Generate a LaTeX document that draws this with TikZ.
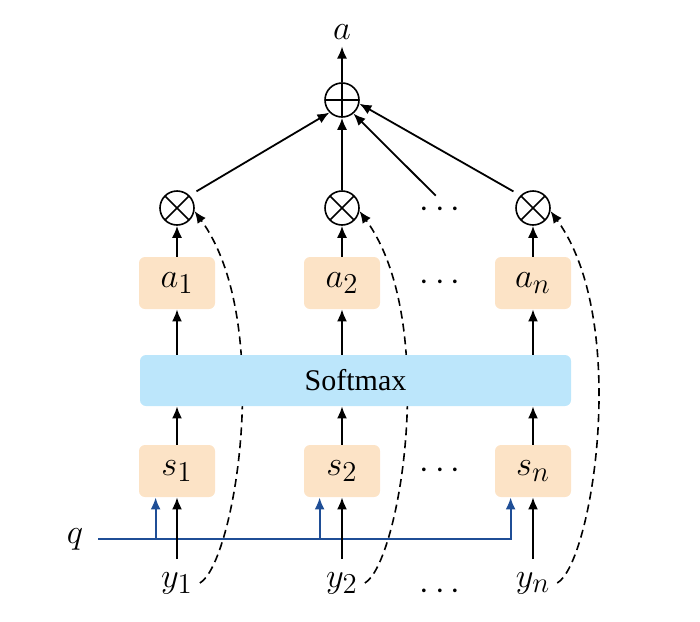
\documentclass[tikz,border=0pt]{standalone}
\usepackage{fontspec}
\setmainfont{Liberation Serif}
\usetikzlibrary{positioning, backgrounds, calc, arrows.meta}

\definecolor{peach}{HTML}{FCE3C6}
\definecolor{skyblue}{HTML}{BCE6FB}
\definecolor{qblue}{HTML}{1F4E96}

\tikzset{
  vbox/.style={fill=peach, rounded corners=3pt, minimum width=38pt, minimum height=26pt, inner sep=0pt, font=\fontsize{19}{22}\selectfont},
  opnode/.style={draw, circle, line width=0.8pt, minimum size=17pt, inner sep=0pt},
  times/.style={opnode, path picture={
      \draw[line width=0.8pt] (path picture bounding box.north west) -- (path picture bounding box.south east);
      \draw[line width=0.8pt] (path picture bounding box.north east) -- (path picture bounding box.south west);}},
  plus/.style={opnode, path picture={
      \draw[line width=0.8pt] (path picture bounding box.north) -- (path picture bounding box.south);
      \draw[line width=0.8pt] (path picture bounding box.east) -- (path picture bounding box.west);}},
  dotsnode/.style={inner sep=1pt, font=\fontsize{16}{18}\selectfont},
  mathlabel/.style={font=\fontsize{19}{22}\selectfont},
  link/.style={->, line width=0.9pt},
  qlink/.style={->, line width=1pt, qblue},
  feed/.style={->, dash pattern=on 4pt off 2.5pt, line width=0.8pt}
}

\begin{document}
\begin{tikzpicture}[>={Latex[length=6pt, width=5pt]}, x=0.5pt, y=-0.5pt]
    \useasboundingbox (0,0) rectangle (700,621);

    % score boxes
    \node[vbox] (s1) at (177,471) {$s_1$};
    \node[vbox, right of=s1, node distance=82.5pt] (s2) {$s_2$};
    \node[vbox, right of=s2, node distance=95.5pt] (sn) {$s_n$};
    \node[dotsnode, right of=s2, node distance=49pt] (dots-s) {$\cdots$};

    % weight boxes
    \node[vbox, above of=s1, node distance=94pt] (a1) {$a_1$};
    \node[vbox, above of=s2, node distance=94pt] (a2) {$a_2$};
    \node[vbox, above of=sn, node distance=94pt] (an) {$a_n$};
    \node[dotsnode, above of=dots-s, node distance=94pt] (dots-a) {$\cdots$};

    \node[fill=skyblue, rounded corners=3pt, minimum width=215.5pt, minimum height=25.5pt, font=\fontsize{15}{18}\selectfont] (softmax) at (355.5,380.5) {Softmax};

    % products and sum
    \node[times, above of=a1, node distance=37.5pt] (mul1) {};
    \node[times, above of=a2, node distance=37.5pt] (mul2) {};
    \node[times, above of=an, node distance=37.5pt] (muln) {};
    \node[dotsnode, above of=dots-a, node distance=36.5pt] (dots-m) {$\cdots$};
    \node[plus, above of=mul2, node distance=54pt] (sum) {};
    \node[mathlabel, above of=sum, node distance=34pt] (out) {$a$};

    % inputs
    \node[mathlabel, below of=s1, node distance=56pt] (y1) {$y_1$};
    \node[mathlabel, below of=s2, node distance=56pt] (y2) {$y_2$};
    \node[mathlabel, below of=sn, node distance=56pt] (yn) {$y_n$};
    \node[dotsnode, below of=dots-s, node distance=60.5pt] (dots-y) {$\cdots$};
    \node[mathlabel] (q) at (75,539) {$q$};

    \coordinate (q1) at ($(s1.south west)+(8.5pt,0)$);
    \coordinate (q2) at ($(s2.south west)+(8pt,0)$);
    \coordinate (qn) at ($(sn.south west)+(8pt,0)$);

    % query line
    \draw[qlink, shorten <=4pt] (q.east) -- (q.east -| qn) -- (qn);
    \draw[qlink] (q.east -| q1) -- (q1);
    \draw[qlink] (q.east -| q2) -- (q2);

    \draw[link, shorten <=3pt] (y1.north) -- (s1.south);
    \draw[link, shorten <=3pt] (y2.north) -- (s2.south);
    \draw[link, shorten <=3pt] (yn.north) -- (sn.south);

    \draw[link] (s1.north) -- (s1.north |- softmax.south);
    \draw[link] (s2.north) -- (s2.north |- softmax.south);
    \draw[link] (sn.north) -- (sn.north |- softmax.south);
    \draw[link] (softmax.north -| a1) -- (a1.south);
    \draw[link] (softmax.north -| a2) -- (a2.south);
    \draw[link] (softmax.north -| an) -- (an.south);

    \draw[link] (a1) -- (mul1);
    \draw[link] (a2) -- (mul2);
    \draw[link] (an) -- (muln);

    \draw[link, shorten <=4pt] (mul1.north east) -- (sum.south west);
    \draw[link] (mul2) -- (sum);
    \draw[link, shorten <=3pt] (dots-m.north) -- (sum.-50);
    \draw[link, shorten <=4pt] (muln.north west) -- (sum.-12);
    \draw[link] (sum) -- (out);

    % values fed back to the products
    \begin{scope}[on background layer]
      \draw[feed] (y1.east) .. controls +(35,-20) and +(80,110) .. (mul1.-10);
      \draw[feed] (y2.east) .. controls +(35,-20) and +(80,110) .. (mul2.-10);
      \draw[feed] (yn.east) .. controls +(35,-20) and +(80,110) .. (muln.-10);
    \end{scope}
\end{tikzpicture}
\end{document}
